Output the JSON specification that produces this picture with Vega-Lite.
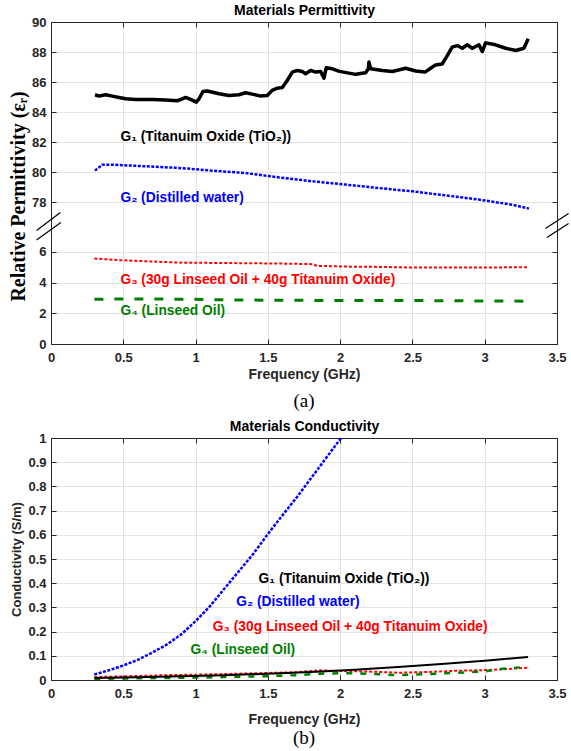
{
  "$schema": "https://vega.github.io/schema/vega-lite/v6.json",
  "padding": {"left": 8, "top": 3, "right": 0, "bottom": 0},
  "spacing": 8,
  "config": {
    "view": {"stroke": null},
    "font": "Liberation Sans",
    "axis": {
      "domainColor": "#262626", "domainWidth": 1,
      "tickColor": "#262626", "tickSize": -5, "tickWidth": 1,
      "labelPadding": 12, "labelFont": "Liberation Sans", "labelFontWeight": "bold",
      "labelFontSize": 13, "labelColor": "#262626", "labelExpr": "'' + datum.value",
      "gridColor": "#e4e4e4", "gridWidth": 1,
      "titleFont": "Liberation Sans", "titleFontWeight": "bold", "titleFontSize": 14, "titleColor": "#262626",
      "labelFlush": false, "labelOverlap": false, "labelBound": false
    }
  },
  "datasets": {
    "perm": [
      {"s": "G1", "f": 0.304, "v": 85.15}, {"s": "G1", "f": 0.332, "v": 85.06}, {"s": "G1", "f": 0.378, "v": 85.15},
      {"s": "G1", "f": 0.424, "v": 85.06}, {"s": "G1", "f": 0.47, "v": 84.97}, {"s": "G1", "f": 0.516, "v": 84.88},
      {"s": "G1", "f": 0.585, "v": 84.84}, {"s": "G1", "f": 0.701, "v": 84.84}, {"s": "G1", "f": 0.793, "v": 84.8},
      {"s": "G1", "f": 0.874, "v": 84.75}, {"s": "G1", "f": 0.908, "v": 84.88}, {"s": "G1", "f": 0.931, "v": 84.97},
      {"s": "G1", "f": 0.966, "v": 84.84}, {"s": "G1", "f": 1.005, "v": 84.66}, {"s": "G1", "f": 1.024, "v": 84.88},
      {"s": "G1", "f": 1.051, "v": 85.37}, {"s": "G1", "f": 1.081, "v": 85.4}, {"s": "G1", "f": 1.162, "v": 85.22},
      {"s": "G1", "f": 1.231, "v": 85.1}, {"s": "G1", "f": 1.3, "v": 85.15}, {"s": "G1", "f": 1.346, "v": 85.28},
      {"s": "G1", "f": 1.392, "v": 85.19}, {"s": "G1", "f": 1.45, "v": 85.06}, {"s": "G1", "f": 1.496, "v": 85.1},
      {"s": "G1", "f": 1.53, "v": 85.44}, {"s": "G1", "f": 1.565, "v": 85.59}, {"s": "G1", "f": 1.6, "v": 85.64},
      {"s": "G1", "f": 1.634, "v": 86.1}, {"s": "G1", "f": 1.669, "v": 86.66}, {"s": "G1", "f": 1.704, "v": 86.77},
      {"s": "G1", "f": 1.738, "v": 86.7}, {"s": "G1", "f": 1.761, "v": 86.55}, {"s": "G1", "f": 1.796, "v": 86.77},
      {"s": "G1", "f": 1.83, "v": 86.66}, {"s": "G1", "f": 1.865, "v": 86.7}, {"s": "G1", "f": 1.888, "v": 86.26},
      {"s": "G1", "f": 1.904, "v": 86.95}, {"s": "G1", "f": 1.946, "v": 86.88}, {"s": "G1", "f": 1.995, "v": 86.71},
      {"s": "G1", "f": 2.107, "v": 86.51}, {"s": "G1", "f": 2.176, "v": 86.62}, {"s": "G1", "f": 2.195, "v": 86.88},
      {"s": "G1", "f": 2.199, "v": 87.33}, {"s": "G1", "f": 2.211, "v": 86.88}, {"s": "G1", "f": 2.292, "v": 86.77},
      {"s": "G1", "f": 2.361, "v": 86.7}, {"s": "G1", "f": 2.453, "v": 86.92}, {"s": "G1", "f": 2.522, "v": 86.73},
      {"s": "G1", "f": 2.587, "v": 86.66}, {"s": "G1", "f": 2.626, "v": 86.92}, {"s": "G1", "f": 2.66, "v": 87.14},
      {"s": "G1", "f": 2.706, "v": 87.2}, {"s": "G1", "f": 2.741, "v": 87.76}, {"s": "G1", "f": 2.775, "v": 88.32},
      {"s": "G1", "f": 2.81, "v": 88.43}, {"s": "G1", "f": 2.845, "v": 88.25}, {"s": "G1", "f": 2.879, "v": 88.48},
      {"s": "G1", "f": 2.914, "v": 88.25}, {"s": "G1", "f": 2.96, "v": 88.48}, {"s": "G1", "f": 2.983, "v": 88.03},
      {"s": "G1", "f": 3.006, "v": 88.61}, {"s": "G1", "f": 3.075, "v": 88.48}, {"s": "G1", "f": 3.145, "v": 88.25},
      {"s": "G1", "f": 3.214, "v": 88.1}, {"s": "G1", "f": 3.271, "v": 88.25}, {"s": "G1", "f": 3.301, "v": 88.88},
      {"s": "G2", "f": 0.304, "v": 80.09}, {"s": "G2", "f": 0.355, "v": 80.49}, {"s": "G2", "f": 0.424, "v": 80.49},
      {"s": "G2", "f": 0.655, "v": 80.38}, {"s": "G2", "f": 0.885, "v": 80.27}, {"s": "G2", "f": 1.116, "v": 80.09},
      {"s": "G2", "f": 1.346, "v": 79.93}, {"s": "G2", "f": 1.577, "v": 79.64}, {"s": "G2", "f": 1.807, "v": 79.38},
      {"s": "G2", "f": 2.038, "v": 79.16}, {"s": "G2", "f": 2.268, "v": 78.93}, {"s": "G2", "f": 2.499, "v": 78.71},
      {"s": "G2", "f": 2.729, "v": 78.44}, {"s": "G2", "f": 2.96, "v": 78.16}, {"s": "G2", "f": 3.19, "v": 77.82},
      {"s": "G2", "f": 3.306, "v": 77.56},
      {"s": "G3", "f": 0.3, "v": 5.57}, {"s": "G3", "f": 0.47, "v": 5.46}, {"s": "G3", "f": 0.655, "v": 5.39},
      {"s": "G3", "f": 0.885, "v": 5.3}, {"s": "G3", "f": 1.116, "v": 5.28}, {"s": "G3", "f": 1.346, "v": 5.26},
      {"s": "G3", "f": 1.577, "v": 5.24}, {"s": "G3", "f": 1.807, "v": 5.2}, {"s": "G3", "f": 1.841, "v": 5.09},
      {"s": "G3", "f": 2.038, "v": 5.04}, {"s": "G3", "f": 2.268, "v": 5.02}, {"s": "G3", "f": 2.499, "v": 4.98},
      {"s": "G3", "f": 2.729, "v": 4.98}, {"s": "G3", "f": 2.96, "v": 4.98}, {"s": "G3", "f": 3.3, "v": 5.0},
      {"s": "G4", "f": 0.3, "v": 2.92}, {"s": "G4", "f": 0.6, "v": 2.93}, {"s": "G4", "f": 0.9, "v": 2.92},
      {"s": "G4", "f": 1.2, "v": 2.88}, {"s": "G4", "f": 1.5, "v": 2.85}, {"s": "G4", "f": 1.8, "v": 2.84},
      {"s": "G4", "f": 2.1, "v": 2.83}, {"s": "G4", "f": 2.4, "v": 2.84}, {"s": "G4", "f": 2.7, "v": 2.82},
      {"s": "G4", "f": 3.0, "v": 2.8}, {"s": "G4", "f": 3.3, "v": 2.79}
    ],
    "cond": [
      {"s": "G1", "f": 0.3, "v": 0.008}, {"s": "G1", "f": 0.6, "v": 0.011}, {"s": "G1", "f": 0.9, "v": 0.015},
      {"s": "G1", "f": 1.2, "v": 0.02}, {"s": "G1", "f": 1.5, "v": 0.026}, {"s": "G1", "f": 1.8, "v": 0.033},
      {"s": "G1", "f": 2.1, "v": 0.042}, {"s": "G1", "f": 2.4, "v": 0.054}, {"s": "G1", "f": 2.7, "v": 0.066},
      {"s": "G1", "f": 3.0, "v": 0.08}, {"s": "G1", "f": 3.3, "v": 0.095},
      {"s": "G2", "f": 0.3, "v": 0.023}, {"s": "G2", "f": 0.4, "v": 0.04}, {"s": "G2", "f": 0.5, "v": 0.06},
      {"s": "G2", "f": 0.6, "v": 0.083}, {"s": "G2", "f": 0.7, "v": 0.113}, {"s": "G2", "f": 0.8, "v": 0.146},
      {"s": "G2", "f": 0.9, "v": 0.188}, {"s": "G2", "f": 1.0, "v": 0.243}, {"s": "G2", "f": 1.1, "v": 0.305},
      {"s": "G2", "f": 1.2, "v": 0.378}, {"s": "G2", "f": 1.3, "v": 0.45}, {"s": "G2", "f": 1.4, "v": 0.522},
      {"s": "G2", "f": 1.5, "v": 0.603}, {"s": "G2", "f": 1.6, "v": 0.68}, {"s": "G2", "f": 1.7, "v": 0.755},
      {"s": "G2", "f": 1.8, "v": 0.835}, {"s": "G2", "f": 1.9, "v": 0.915}, {"s": "G2", "f": 2.0, "v": 0.995},
      {"s": "G2", "f": 2.01, "v": 1.0},
      {"s": "G3", "f": 0.3, "v": 0.012}, {"s": "G3", "f": 0.5, "v": 0.015}, {"s": "G3", "f": 0.8, "v": 0.02},
      {"s": "G3", "f": 1.0, "v": 0.022}, {"s": "G3", "f": 1.3, "v": 0.026}, {"s": "G3", "f": 1.5, "v": 0.029},
      {"s": "G3", "f": 1.7, "v": 0.032}, {"s": "G3", "f": 1.85, "v": 0.04}, {"s": "G3", "f": 2.0, "v": 0.037},
      {"s": "G3", "f": 2.2, "v": 0.035}, {"s": "G3", "f": 2.4, "v": 0.03}, {"s": "G3", "f": 2.6, "v": 0.033},
      {"s": "G3", "f": 2.8, "v": 0.038}, {"s": "G3", "f": 3.0, "v": 0.041}, {"s": "G3", "f": 3.15, "v": 0.045},
      {"s": "G3", "f": 3.3, "v": 0.051},
      {"s": "G4", "f": 0.3, "v": 0.005}, {"s": "G4", "f": 0.6, "v": 0.007}, {"s": "G4", "f": 0.9, "v": 0.009},
      {"s": "G4", "f": 1.2, "v": 0.012}, {"s": "G4", "f": 1.5, "v": 0.016}, {"s": "G4", "f": 1.7, "v": 0.02},
      {"s": "G4", "f": 1.9, "v": 0.027}, {"s": "G4", "f": 2.1, "v": 0.028}, {"s": "G4", "f": 2.4, "v": 0.02},
      {"s": "G4", "f": 2.6, "v": 0.024}, {"s": "G4", "f": 2.8, "v": 0.03}, {"s": "G4", "f": 3.0, "v": 0.035},
      {"s": "G4", "f": 3.1, "v": 0.045}, {"s": "G4", "f": 3.2, "v": 0.05}, {"s": "G4", "f": 3.3, "v": 0.055}
    ],
    "permLabels": [
      {"s": "G1", "f": 0.48, "v": 82.35, "label": "G₁ (Titanuim Oxide (TiO₂))"},
      {"s": "G2", "f": 0.48, "v": 78.3, "label": "G₂ (Distilled water)"},
      {"s": "G3", "f": 0.48, "v": 4.2, "label": "G₃ (30g Linseed Oil + 40g Titanuim Oxide)"},
      {"s": "G4", "f": 0.48, "v": 2.18, "label": "G₄ (Linseed Oil)"}
    ],
    "condLabels": [
      {"s": "G1", "f": 1.436, "v": 0.418, "label": "G₁ (Titanuim Oxide (TiO₂))"},
      {"s": "G2", "f": 1.281, "v": 0.321, "label": "G₂ (Distilled water)"},
      {"s": "G3", "f": 1.119, "v": 0.218, "label": "G₃ (30g Linseed Oil + 40g Titanuim Oxide)"},
      {"s": "G4", "f": 0.965, "v": 0.123, "label": "G₄ (Linseed Oil)"}
    ],
    "breaks": [
      {"f": -0.1, "f2": 0.065, "v": 32.4, "v2": 77.3},
      {"f": -0.1, "f2": 0.068, "v": 6.77, "v2": 66.2},
      {"f": 3.42, "f2": 3.58, "v": 40.8, "v2": 77.23},
      {"f": 3.43, "f2": 3.58, "v": 6.93, "v2": 62.0}
    ]
  },
  "vconcat": [
    {
      "width": 506,
      "height": 322,
      "title": {"text": "(a)", "orient": "bottom", "font": "Liberation Serif", "fontSize": 19, "fontWeight": "normal", "color": "black", "offset": 11},
      "resolve": {"axis": {"x": "independent", "y": "independent"}},
      "layer": [
        {
          "data": {"name": "perm"},
          "transform": [{"filter": "datum.s === 'G1'"}],
          "mark": {"type": "line", "color": "black", "strokeWidth": 3.5, "strokeJoin": "round"},
          "encoding": {
            "x": {"field": "f", "type": "quantitative",
              "scale": {"domain": [0, 3.5], "nice": false, "zero": false},
              "axis": {"orient": "bottom", "title": "Frequency (GHz)", "values": [0, 0.5, 1, 1.5, 2, 2.5, 3, 3.5], "grid": true, "titlePadding": 3}},
            "y": {"field": "v", "type": "quantitative",
              "scale": {"domain": [0, 7, 76.8, 90], "range": [322, 214.5, 198, 0], "nice": false, "zero": false},
              "axis": {"orient": "left", "title": "Relative Permittivity (εᵣ)", "values": [0, 2, 4, 6, 78, 80, 82, 84, 86, 88, 90], "grid": true, "labelPadding": 10,
                "titleFont": "Liberation Serif", "titleFontSize": 20, "titleColor": "black", "titlePadding": 3, "titleY": 174}}
          }
        },
        {
          "data": {"name": "perm"},
          "transform": [{"filter": "datum.s === 'G2'"}],
          "mark": {"type": "line", "color": "#0000ff", "strokeWidth": 2.5, "strokeDash": [3, 1.5]},
          "encoding": {
            "x": {"field": "f", "type": "quantitative",
              "scale": {"domain": [0, 3.5], "nice": false, "zero": false},
              "axis": {"orient": "top", "title": "Materials Permittivity", "values": [0, 0.5, 1, 1.5, 2, 2.5, 3, 3.5], "labels": false, "grid": false,
                "titleFontSize": 14, "titleColor": "black", "titlePadding": 4}},
            "y": {"field": "v", "type": "quantitative",
              "scale": {"domain": [0, 7, 76.8, 90], "range": [322, 214.5, 198, 0], "nice": false, "zero": false},
              "axis": {"orient": "right", "title": null, "values": [0, 2, 4, 6, 78, 80, 82, 84, 86, 88, 90], "labels": false, "grid": false}}
          }
        },
        {
          "data": {"name": "perm"},
          "transform": [{"filter": "datum.s === 'G3'"}],
          "mark": {"type": "line", "color": "#ff0000", "strokeWidth": 2, "strokeDash": [3, 2]},
          "encoding": {
            "x": {"field": "f", "type": "quantitative", "axis": null},
            "y": {"field": "v", "type": "quantitative", "axis": null}
          }
        },
        {
          "data": {"name": "perm"},
          "transform": [{"filter": "datum.s === 'G4'"}],
          "mark": {"type": "line", "color": "#008000", "strokeWidth": 3, "strokeDash": [9, 11]},
          "encoding": {
            "x": {"field": "f", "type": "quantitative", "axis": null},
            "y": {"field": "v", "type": "quantitative", "axis": null}
          }
        },
        {
          "data": {"name": "permLabels"},
          "mark": {"type": "text", "align": "left", "baseline": "middle", "font": "Liberation Sans", "fontWeight": "bold", "fontSize": 13.8},
          "encoding": {
            "x": {"field": "f", "type": "quantitative", "axis": null},
            "y": {"field": "v", "type": "quantitative", "axis": null},
            "text": {"field": "label"},
            "color": {"field": "s", "type": "nominal", "legend": null,
              "scale": {"domain": ["G1", "G2", "G3", "G4"], "range": ["#000000", "#0000ff", "#ff0000", "#008000"]}}
          }
        },
        {
          "data": {"name": "breaks"},
          "mark": {"type": "rule", "color": "black", "strokeWidth": 1.2},
          "encoding": {
            "x": {"field": "f", "type": "quantitative", "axis": null},
            "x2": {"field": "f2"},
            "y": {"field": "v", "type": "quantitative", "axis": null},
            "y2": {"field": "v2"}
          }
        }
      ]
    },
    {
      "width": 506,
      "height": 242,
      "title": {"text": "(b)", "orient": "bottom", "font": "Liberation Serif", "fontSize": 19, "fontWeight": "normal", "color": "black", "offset": 3},
      "resolve": {"axis": {"x": "independent", "y": "independent"}},
      "layer": [
        {
          "data": {"name": "cond"},
          "transform": [{"filter": "datum.s === 'G2'"}],
          "mark": {"type": "line", "color": "#0000ff", "strokeWidth": 2.5, "strokeDash": [3, 1.5]},
          "encoding": {
            "x": {"field": "f", "type": "quantitative",
              "scale": {"domain": [0, 3.5], "nice": false, "zero": false},
              "axis": {"orient": "bottom", "title": "Frequency (GHz)", "values": [0, 0.5, 1, 1.5, 2, 2.5, 3, 3.5], "grid": true, "titlePadding": 12}},
            "y": {"field": "v", "type": "quantitative",
              "scale": {"domain": [0, 1], "nice": false, "zero": false},
              "axis": {"orient": "left", "title": "Conductivity (S/m)", "values": [0, 0.1, 0.2, 0.3, 0.4, 0.5, 0.6, 0.7, 0.8, 0.9, 1], "grid": true, "labelPadding": 10,
                "titleFontSize": 13, "titlePadding": 4}}
          }
        },
        {
          "data": {"name": "cond"},
          "transform": [{"filter": "datum.s === 'G3'"}],
          "mark": {"type": "line", "color": "#ff0000", "strokeWidth": 2, "strokeDash": [3, 2]},
          "encoding": {
            "x": {"field": "f", "type": "quantitative",
              "scale": {"domain": [0, 3.5], "nice": false, "zero": false},
              "axis": {"orient": "top", "title": "Materials Conductivity", "values": [0, 0.5, 1, 1.5, 2, 2.5, 3, 3.5], "labels": false, "grid": false,
                "titleFontSize": 14, "titleColor": "black", "titlePadding": 4}},
            "y": {"field": "v", "type": "quantitative",
              "scale": {"domain": [0, 1], "nice": false, "zero": false},
              "axis": {"orient": "right", "title": null, "values": [0, 0.1, 0.2, 0.3, 0.4, 0.5, 0.6, 0.7, 0.8, 0.9, 1], "labels": false, "grid": false}}
          }
        },
        {
          "data": {"name": "cond"},
          "transform": [{"filter": "datum.s === 'G4'"}],
          "mark": {"type": "line", "color": "#008000", "strokeWidth": 2.5, "strokeDash": [6, 8]},
          "encoding": {
            "x": {"field": "f", "type": "quantitative", "axis": null},
            "y": {"field": "v", "type": "quantitative", "axis": null}
          }
        },
        {
          "data": {"name": "cond"},
          "transform": [{"filter": "datum.s === 'G1'"}],
          "mark": {"type": "line", "color": "black", "strokeWidth": 2},
          "encoding": {
            "x": {"field": "f", "type": "quantitative", "axis": null},
            "y": {"field": "v", "type": "quantitative", "axis": null}
          }
        },
        {
          "data": {"name": "condLabels"},
          "mark": {"type": "text", "align": "left", "baseline": "middle", "font": "Liberation Sans", "fontWeight": "bold", "fontSize": 13.8},
          "encoding": {
            "x": {"field": "f", "type": "quantitative", "axis": null},
            "y": {"field": "v", "type": "quantitative", "axis": null},
            "text": {"field": "label"},
            "color": {"field": "s", "type": "nominal", "legend": null,
              "scale": {"domain": ["G1", "G2", "G3", "G4"], "range": ["#000000", "#0000ff", "#ff0000", "#008000"]}}
          }
        }
      ]
    }
  ]
}
